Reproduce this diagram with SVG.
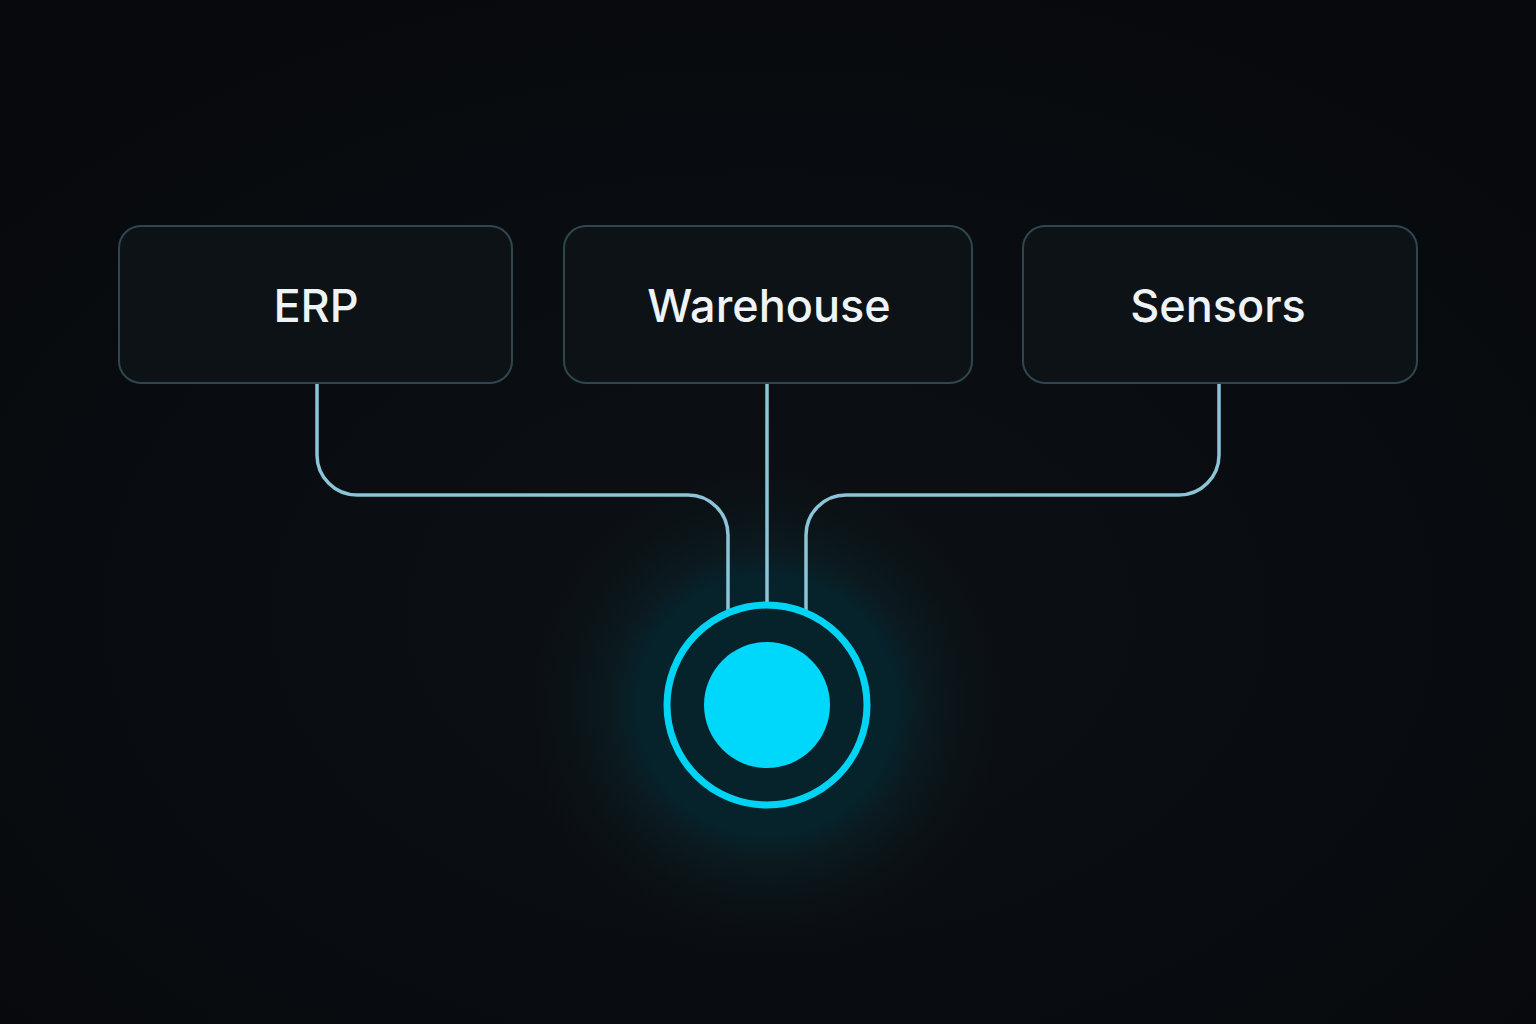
<svg xmlns="http://www.w3.org/2000/svg" width="1536" height="1024" viewBox="0 0 1536 1024">
<defs>
<radialGradient id="bg" cx="50%" cy="60%" r="70%"><stop offset="0" stop-color="#0c1115"/><stop offset="1" stop-color="#07090c"/></radialGradient>
<radialGradient id="glow" cx="50%" cy="50%" r="50%"><stop offset="0" stop-color="#07262f"/><stop offset="0.5" stop-color="#06222b"/><stop offset="0.6" stop-color="#0b1a1f"/><stop offset="1" stop-color="#0a0d10" stop-opacity="0"/></radialGradient>
<style>
.box{fill:#0d1217;stroke:#2f4650;stroke-width:2}
.lbl{font-family:"Inter","Noto Sans",sans-serif;font-size:45px;font-weight:500;fill:#eef3f6;text-anchor:middle}
.con{fill:none;stroke:#8cc4d8;stroke-width:3.5}
</style>
</defs>
<rect width="1536" height="1024" fill="url(#bg)"/>
<circle id="hub-glow" cx="767" cy="705" r="260" fill="url(#glow)"/>
<g id="connectors">
<path class="con" d="M317 384 V455 A40 40 0 0 0 357 495 H688 A40 40 0 0 1 728 535 V610"/>
<path class="con" d="M767 384 V605"/>
<path class="con" d="M1219 384 V455 A40 40 0 0 1 1179 495 H846 A40 40 0 0 0 806 535 V610"/>
</g>
<g id="erp"><rect class="box" x="119" y="226" width="393" height="157" rx="22"/><text class="lbl" x="316" y="322">ERP</text></g>
<g id="warehouse"><rect class="box" x="564" y="226" width="408" height="157" rx="22"/><text class="lbl" x="769" y="322">Warehouse</text></g>
<g id="sensors"><rect class="box" x="1023" y="226" width="394" height="157" rx="22"/><text class="lbl" x="1218" y="322">Sensors</text></g>
<g id="hub">
<circle cx="767" cy="705" r="100" fill="#06222b" stroke="#00d4f5" stroke-width="7"/>
<circle cx="767" cy="705" r="63" fill="#00d8fb"/>
</g>
</svg>
